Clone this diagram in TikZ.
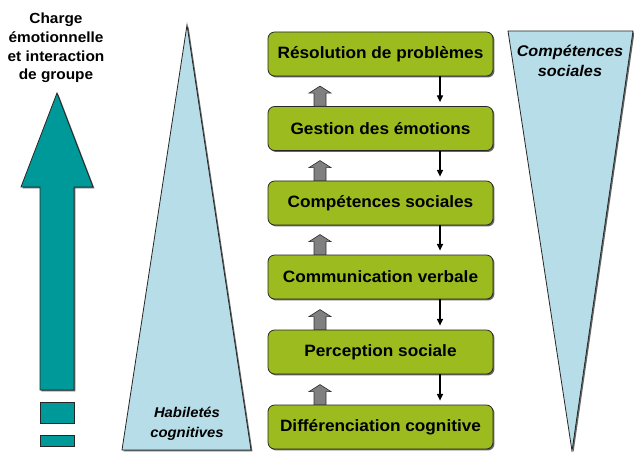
\documentclass[tikz,border=0pt]{standalone}
\usepackage{fontspec}
\setmainfont{Liberation Sans}[FakeStretch=1.05]
\usetikzlibrary{calc,arrows.meta,shadows}

\definecolor{boxgreen}{RGB}{155,187,30}
\definecolor{tealfill}{RGB}{0,153,153}
\definecolor{paleblue}{RGB}{183,222,232}
\definecolor{upgray}{RGB}{128,128,128}

% gray upward arrow standing on the top edge of a stage box
\newcommand\riseto[1]{%
  \draw[uparrow] ($(#1.north)+(-66.5,0)$) -- ++(0,-13) -- ++(-5,0)
    -- ++(11,-7) -- ++(11,7) -- ++(-5,0) -- ++(0,13) -- cycle;}

\begin{document}
\begin{tikzpicture}[x=0.75pt,y=-0.75pt,
  softshadow/.style={drop shadow={shadow xshift=1.1pt,shadow yshift=-1.1pt,fill=black!60,opacity=1}},
  stage/.style={draw=black!85,line width=0.6pt,fill=boxgreen,rounded corners=5pt,
    minimum width=168.75pt,minimum height=33pt,inner sep=0pt,
    font=\bfseries\fontsize{12.3}{14}\selectfont,softshadow},
  uparrow/.style={draw=black!80,line width=0.5pt,fill=upgray},
  downarrow/.style={draw=black,line width=0.8pt,-{Triangle[length=5pt,width=4.5pt]}},
  wedge/.style={draw=black!85,line width=0.6pt,fill=paleblue,softshadow},
  bigarrow/.style={draw=black!85,line width=0.6pt,fill=tealfill,softshadow},
  wedgelabel/.style={align=center,inner sep=0pt,font=\bfseries\itshape\fontsize{#1}{15}\selectfont},
]
\useasboundingbox (0,0) rectangle (634,452);
\fill[white] (0,0) rectangle (634,452);

% rising arrow for emotional load
\draw[bigarrow] (57,93) -- (93,187) -- (74,187) -- (74,390) -- (40,390)
  -- (40,187) -- (21,187) -- cycle;
\draw[bigarrow] (40,402) rectangle (74,423);
\draw[bigarrow] (40,435) rectangle (74,446);
\node[align=center,inner sep=0pt,anchor=north,
  font=\bfseries\fontsize{11}{14}\selectfont] (charge) at (56,13)
  {Charge\\émotionnelle\\et interaction\\de groupe};

% widening and narrowing wedges
\draw[wedge] (187,25) -- (251,450) -- (122,450) -- cycle;
\draw[wedge] (508,31) -- (633,31) -- (572,451) -- cycle;
\node[wedgelabel=10.6] (hab) at (187,424) {Habiletés\\cognitives};
\node[wedgelabel=11.6] (soc) at (570,61) {Compétences\\sociales};

% stages
\node[stage] (s6) at (380.5,54)  {Résolution de problèmes};
\node[stage] (s5) at (380.5,128.5) {Gestion des émotions};
\node[stage] (s4) at (380.5,203) {Compétences sociales};
\node[stage] (s3) at (380.5,277) {Communication verbale};
\node[stage] (s2) at (380.5,352) {Perception sociale};
\node[stage] (s1) at (380.5,427) {Différenciation cognitive};

% upward gray arrows
\riseto{s5}
\riseto{s4}
\riseto{s3}
\riseto{s2}
\riseto{s1}

% downward black arrows
\foreach \a/\b in {s6/s5,s5/s4,s4/s3,s3/s2,s2/s1}
  \draw[downarrow] ($(\a.south)+(59.5,0)$) -- ($(\b.north)+(59.5,-4)$);
\end{tikzpicture}
\end{document}
